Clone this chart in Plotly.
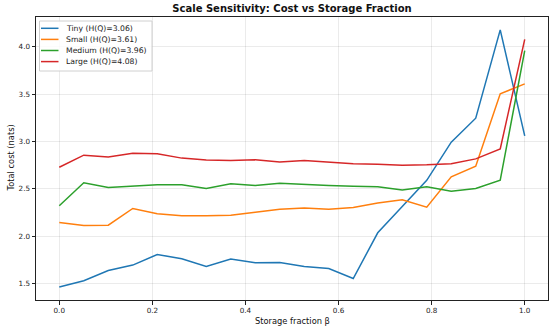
import numpy as np
import plotly.graph_objects as go

beta = np.linspace(0, 1, 20)

tiny = [1.463, 1.529, 1.638, 1.695, 1.807, 1.761, 1.680, 1.758, 1.719, 1.722,
        1.680, 1.659, 1.553, 2.036, 2.314, 2.590, 2.994, 3.247, 4.180, 3.060]
small = [2.145, 2.113, 2.116, 2.293, 2.237, 2.215, 2.215, 2.222, 2.254, 2.286,
         2.297, 2.286, 2.303, 2.350, 2.384, 2.307, 2.627, 2.740, 3.504, 3.610]
medium = [2.321, 2.564, 2.514, 2.529, 2.543, 2.543, 2.504, 2.553, 2.536, 2.560,
          2.546, 2.536, 2.529, 2.522, 2.487, 2.522, 2.476, 2.504, 2.592, 3.960]
large = [2.729, 2.856, 2.838, 2.877, 2.870, 2.825, 2.804, 2.800, 2.807, 2.784,
         2.800, 2.782, 2.765, 2.761, 2.751, 2.754, 2.765, 2.817, 2.923, 4.080]

names = ["Tiny (H(Q)=3.06)", "Small (H(Q)=3.61)", "Medium (H(Q)=3.96)", "Large (H(Q)=4.08)"]
colors = ["#1f77b4", "#ff7f0e", "#2ca02c", "#d62728"]
values = [tiny, small, medium, large]

W, H = 555, 331
L, R, T, B = 36, 7, 17, 31
pw, ph = W - L - R, H - T - B


def px_x(x):
    return (x - L) / pw


def px_y(y):
    return 1 - (y - T) / ph


fig = go.Figure()
for name, ys, color in zip(names, values, colors):
    fig.add_trace(go.Scatter(x=beta, y=ys, mode="lines", name=name,
                             line=dict(color=color, width=1.5)))

axis_common = dict(
    showline=True, linecolor="#222", linewidth=1, mirror=True,
    ticks="outside", ticklen=3.5, tickcolor="#222", tickwidth=0.8,
    showgrid=True, gridcolor="rgba(0,0,0,0.08)", gridwidth=1,
    zeroline=False, tickfont=dict(size=7.2, color="#222"), automargin=False,
)

# legend drawn by hand (matplotlib-style compact box)
shapes = [dict(type="rect", xref="paper", yref="paper",
               x0=px_x(39.5), x1=px_x(152), y0=px_y(71), y1=px_y(21),
               line=dict(color="#d0d0d0", width=1), fillcolor="rgba(255,255,255,0.85)",
               layer="above")]
annotations = []
for i, (name, color) in enumerate(zip(names, colors)):
    yc = 28.3 + i * 11.1
    shapes.append(dict(type="line", xref="paper", yref="paper",
                       x0=px_x(41), x1=px_x(58.5), y0=px_y(yc), y1=px_y(yc),
                       line=dict(color=color, width=1.5), layer="above"))
    annotations.append(dict(text=name, xref="paper", yref="paper",
                            x=px_x(64), y=px_y(yc), xanchor="left", yanchor="middle",
                            showarrow=False, font=dict(size=7.7, color="#222")))

annotations.append(dict(text="Storage fraction β", xref="paper", yref="paper",
                        x=0.5, y=px_y(320.5), xanchor="center", yanchor="middle",
                        showarrow=False, font=dict(size=8.3, color="#111")))
annotations.append(dict(text="Total cost (nats)", xref="paper", yref="paper",
                        x=px_x(10), y=0.5, xanchor="center", yanchor="middle",
                        textangle=-90, showarrow=False, font=dict(size=8.3, color="#111")))

fig.update_layout(
    width=W, height=H,
    margin=dict(l=L, r=R, t=T, b=B),
    paper_bgcolor="white", plot_bgcolor="white",
    font=dict(family="DejaVu Sans", color="#111"),
    title=dict(text="<b>Scale Sensitivity: Cost vs Storage Fraction</b>",
               x=0.5, xref="paper", y=1 - 8.5 / H, yref="container", yanchor="middle",
               font=dict(size=10, color="#111")),
    xaxis=dict(range=[-0.05, 1.05], tickvals=[0, 0.2, 0.4, 0.6, 0.8, 1.0],
               ticktext=["0.0", "0.2", "0.4", "0.6", "0.8", "1.0"], **axis_common),
    yaxis=dict(range=[1.326, 4.316], tickvals=[1.5, 2.0, 2.5, 3.0, 3.5, 4.0],
               ticktext=["1.5", "2.0", "2.5", "3.0", "3.5", "4.0"], **axis_common),
    showlegend=False,
    shapes=shapes,
    annotations=annotations,
)

fig.write_html("out.html", config={"displayModeBar": False},
               post_script="document.body.style.margin='0';")
